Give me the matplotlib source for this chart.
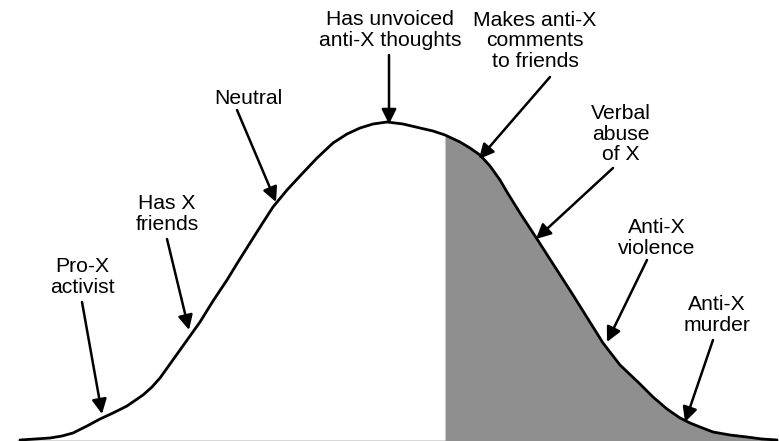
import numpy as np
import matplotlib
matplotlib.use("Agg")
import matplotlib.pyplot as plt
from matplotlib.patches import FancyArrowPatch

plt.rcParams['font.family'] = ['Liberation Sans', 'DejaVu Sans']

# Curve (x in px from left, height in px above baseline)
curve_x = [20, 35, 50, 62, 73, 87, 100, 113, 127, 143, 152, 160, 170, 180, 190,
           200, 213, 227, 238, 250, 262, 273, 287, 300, 317, 333, 347, 360, 373,
           387, 403, 420, 433, 445, 460, 470, 480, 490, 500, 507, 520, 537, 555,
           573, 588, 603, 620, 640, 653, 667, 680, 690, 700, 713, 730, 747, 762,
           777]
curve_y = [0, 1, 2, 4, 7, 14, 21, 27, 34, 45, 53, 62, 76, 90, 104,
           118, 139, 160, 178, 197, 216, 233, 250, 264, 282, 297, 306, 312, 316,
           318, 316, 312, 309, 305, 298, 292, 285, 274, 260, 248, 227, 201, 173,
           145, 121, 97, 75, 56, 43, 31, 22, 17, 13, 8, 5, 3, 1,
           0]
shade_start = 445

# Annotations: label, text centre (x, y from top), arrow start, arrow tip
labels = ["Pro-X\nactivist", "Has X\nfriends", "Neutral",
          "Has unvoiced\nanti-X thoughts", "Makes anti-X\ncomments\nto friends",
          "Verbal\nabuse\nof X", "Anti-X\nviolence", "Anti-X\nmurder"]
label_pos = [(82, 277), (167, 214), (248, 98), (390, 30), (535, 41),
             (621, 134), (657, 238), (717, 315)]
arrow_from = [(82, 302), (167, 239), (237, 110), (389, 55), (550, 77),
              (613, 168), (647, 260), (713, 340)]
arrow_to = [(102, 414), (189, 330), (276, 202), (389, 124), (479, 159),
            (536, 239), (607, 342), (685, 422)]

W, H = 779, 441
fig = plt.figure(figsize=(W / 100, H / 100), dpi=100)
ax = fig.add_axes([0, 0, 1, 1])
ax.set_xlim(0, W)
ax.set_ylim(0, H)
ax.axis('off')

cx = np.array(curve_x, float)
cy = np.array(curve_y, float)
base = 1.0
ax.plot([18, W], [0.5, 0.5], color='#d0d0d0', lw=1.2, zorder=1)

mask = cx >= shade_start
fx = np.concatenate([[shade_start], cx[mask]])
fy = np.concatenate([[np.interp(shade_start, cx, cy)], cy[mask]])
ax.fill_between(fx, 0, fy + base, color='#8f8f8f', lw=0, zorder=2)
ax.plot(cx, cy + base, color='black', lw=2.0, solid_capstyle='round',
        solid_joinstyle='round', zorder=3)

for lab, (tx, ty), (x0, y0), (x1, y1) in zip(labels, label_pos, arrow_from, arrow_to):
    ax.text(tx, H - ty, lab, ha='center', va='center', fontsize=15.2,
            linespacing=1.08, color='black', zorder=4)
    arr = FancyArrowPatch((x0, H - y0), (x1, H - y1), arrowstyle='-|>',
                          mutation_scale=22, lw=1.8, color='black',
                          shrinkA=0, shrinkB=0, zorder=5)
    ax.add_patch(arr)

fig.savefig('out.png', dpi=100)
